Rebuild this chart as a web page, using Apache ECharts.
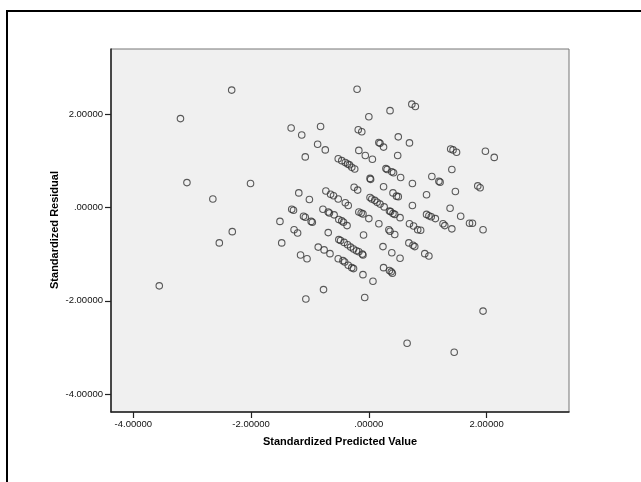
<!DOCTYPE html>
<html>
<head>
<meta charset="utf-8">
<script src="https://cdn.jsdelivr.net/npm/echarts@6/dist/echarts.min.js"></script>
<style>
  html, body { margin: 0; padding: 0; background: #fff; }
  #chart { width: 641px; height: 482px; }
</style>
</head>
<body>
<div id="chart"></div>
<script>
// Standardized predicted value for each case
const predicted = [
  -2.33, -3.20, -3.09, -2.01, -2.65, -2.32, -2.54, -3.56,
  1.98, 2.13, 1.94, 1.94, 0.65, 1.45,
  -0.20, 0.73, 0.79, 0.36, 0.00, -0.82, -1.32, -0.18, -0.12, -1.14,
  0.50, 0.17, 0.19, 0.69, -0.87, 0.25, -0.74, -0.17, 1.39, 1.43,
  1.49, -0.06, 0.49, -1.08, 0.06,
  -0.52, -0.46, -0.40, -0.36, -0.33, -0.29, -0.24,
  0.29, 0.31, 0.39, 0.42, 0.54, 0.02, 0.03, 1.07, 1.41, 1.19, 1.21,
  0.74, 1.85, 1.89, -0.25, -0.19, 0.25, 1.47, -0.73, -1.19, -0.65,
  -0.60, -0.52, 0.41, 0.47, 0.50, 0.98, -1.01, 0.02, 0.05, 0.10,
  0.14, 0.19, -0.40, -0.35, 0.74, 0.26, -1.31, -1.28, -0.78, -0.69,
  -0.67, -0.59, -0.17, -0.13, -0.10, 0.35, 0.37, 0.41, 0.44, 1.38,
  0.98, 1.02, 1.06, 1.56, -1.11, -1.08, -0.98, -0.96, -0.51, -0.46,
  -0.43, -0.37, 0.00, 0.53, 1.13, 1.71, 1.76, -1.51, 0.17, 0.69,
  0.76, 0.83, 0.88, 1.26, 1.29, 1.41, 0.34, 0.36, -1.27, -1.21,
  -0.69, -0.09, 0.44,
  -0.51, -0.48, -0.42, -0.36, -0.31, -0.26, -0.21, -0.17, -0.11, -0.10,
  -1.48, 0.68, 0.75, 0.78, 0.24, -0.86, -0.76, -0.66, 0.39, 0.95,
  1.02, -1.16, -1.05, -0.52, -0.44, -0.41, -0.35, -0.29, -0.26, 0.53,
  0.25, 0.35, 0.38, 0.40, -0.10, 0.07, -0.77, -1.07, -0.07
];

// Standardized residual for each case (same order)
const residual = [
  2.51, 1.90, 0.53, 0.51, 0.18, -0.52, -0.76, -1.68,
  1.20, 1.07, -0.48, -2.22, -2.91, -3.10,
  2.53, 2.21, 2.16, 2.07, 1.94, 1.73, 1.70, 1.66, 1.62, 1.55,
  1.51, 1.39, 1.37, 1.38, 1.35, 1.29, 1.23, 1.22, 1.25, 1.23,
  1.18, 1.11, 1.11, 1.08, 1.03,
  1.04, 1.00, 0.96, 0.93, 0.91, 0.86, 0.82,
  0.83, 0.81, 0.76, 0.74, 0.64, 0.62, 0.60, 0.66, 0.81, 0.56, 0.54,
  0.51, 0.46, 0.42, 0.43, 0.37, 0.44, 0.34, 0.35, 0.31, 0.28,
  0.25, 0.18, 0.31, 0.24, 0.23, 0.27, 0.17, 0.21, 0.18, 0.15,
  0.11, 0.07, 0.10, 0.04, 0.04, 0.01, -0.04, -0.06, -0.04, -0.10,
  -0.12, -0.16, -0.10, -0.12, -0.14, -0.08, -0.09, -0.13, -0.15, -0.02,
  -0.15, -0.18, -0.20, -0.19, -0.19, -0.21, -0.30, -0.32, -0.26, -0.29,
  -0.32, -0.39, -0.24, -0.22, -0.24, -0.34, -0.34, -0.30, -0.35, -0.35,
  -0.40, -0.48, -0.49, -0.35, -0.39, -0.46, -0.48, -0.51, -0.48, -0.55,
  -0.54, -0.59, -0.58,
  -0.69, -0.71, -0.75, -0.80, -0.85, -0.89, -0.93, -0.95, -1.00, -1.02,
  -0.76, -0.76, -0.81, -0.84, -0.84, -0.85, -0.91, -0.99, -0.97, -0.99,
  -1.04, -1.02, -1.10, -1.10, -1.14, -1.17, -1.24, -1.29, -1.31, -1.09,
  -1.29, -1.35, -1.38, -1.41, -1.44, -1.58, -1.76, -1.96, -1.93
];

// Tick positions and their printed labels
const xTickValues = [-4, -2, 0, 2];
const xTickLabels = ['-4.00000', '-2.00000', '.00000', '2.00000'];
const yTickValues = [-4, -2, 0, 2];
const yTickLabels = ['-4.00000', '-2.00000', '.00000', '2.00000'];

const xTitle = 'Standardized Predicted Value';
const yTitle = 'Standardized Residual';

const points = predicted.map((x, i) => [x, residual[i]]);

const labelFor = (values, labels) => v => {
  const i = values.findIndex(t => Math.abs(t - v) < 1e-9);
  return i >= 0 ? labels[i] : '';
};

const chart = echarts.init(document.getElementById('chart'), null, { renderer: 'canvas' });

const fontFamily = '"Liberation Sans", Arial, sans-serif';

chart.setOption({
  animation: false,
  backgroundColor: '#ffffff',
  textStyle: { fontFamily: fontFamily },
  graphic: [
    {
      // outer frame of the output panel
      type: 'rect',
      shape: { x: 7, y: 11, width: 700, height: 600 },
      style: { fill: 'none', stroke: '#000', lineWidth: 2 },
      silent: true
    },
    {
      // vertical axis title
      type: 'text',
      x: 55,
      y: 230,
      rotation: Math.PI / 2,
      style: {
        text: yTitle,
        fill: '#000',
        font: 'bold 11px ' + fontFamily,
        align: 'center',
        verticalAlign: 'middle'
      },
      silent: true
    }
  ],
  grid: {
    left: 111,
    top: 49,
    width: 458,
    height: 363,
    show: true,
    backgroundColor: '#f0f0f0',
    borderColor: '#777',
    borderWidth: 1
  },
  xAxis: {
    type: 'value',
    min: -4.38,
    max: 3.40,
    name: xTitle,
    nameLocation: 'middle',
    nameGap: 24,
    nameTextStyle: { fontFamily: fontFamily, fontSize: 11, fontWeight: 'bold', color: '#000' },
    axisLine: { show: true, onZero: false, lineStyle: { color: '#222', width: 1.5 } },
    axisTick: { show: true, length: 6, lineStyle: { color: '#222', width: 1.2 }, customValues: xTickValues },
    axisLabel: {
      show: true,
      customValues: xTickValues,
      formatter: labelFor(xTickValues, xTickLabels),
      fontFamily: fontFamily,
      fontSize: 9.5,
      color: '#111',
      margin: 7
    },
    splitLine: { show: false }
  },
  yAxis: {
    type: 'value',
    min: -4.38,
    max: 3.39,
    axisLine: { show: true, onZero: false, lineStyle: { color: '#222', width: 1.5 } },
    axisTick: { show: true, length: 6, lineStyle: { color: '#222', width: 1.2 }, customValues: yTickValues },
    axisLabel: {
      show: true,
      customValues: yTickValues,
      formatter: labelFor(yTickValues, yTickLabels),
      fontFamily: fontFamily,
      fontSize: 9.5,
      color: '#111',
      margin: 8
    },
    splitLine: { show: false }
  },
  series: [
    {
      type: 'scatter',
      data: points,
      symbol: 'circle',
      symbolSize: 6.5,
      itemStyle: {
        color: 'transparent',
        borderColor: '#333',
        borderWidth: 1.1
      },
      emphasis: { disabled: true }
    }
  ]
});
</script>
</body>
</html>
